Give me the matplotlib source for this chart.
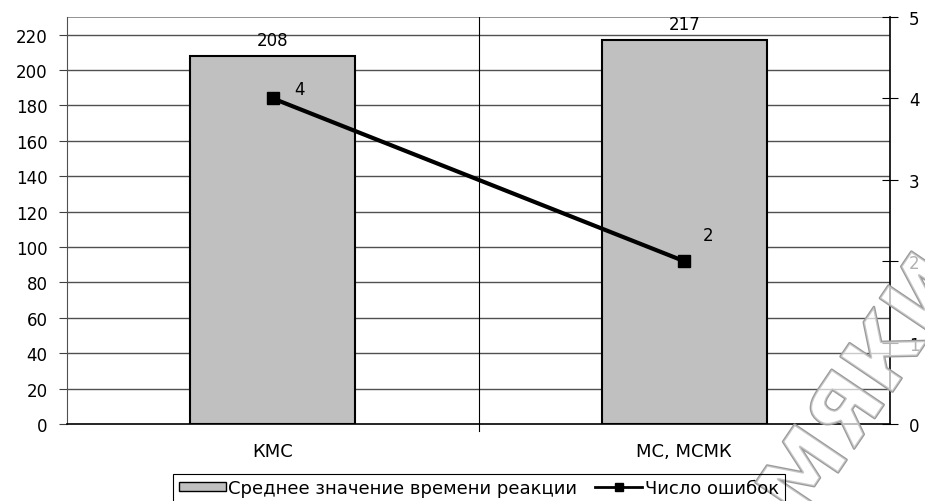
import matplotlib
matplotlib.use("Agg")
import matplotlib.pyplot as plt
import matplotlib.patheffects as pe
from matplotlib.lines import Line2D
from matplotlib.patches import Patch

plt.rcParams['font.family'] = ['DejaVu Sans']

categories = ["КМС", "МС, МСМК"]
reaction_time = [208, 217]
errors = [4, 2]
left_ticks = list(range(0, 221, 20))
right_ticks = [0, 1, 2, 3, 4, 5]
bar_label = "Среднее значение времени реакции"
line_label = "Число ошибок"

fig = plt.figure(figsize=(9.25, 5.02), dpi=100)
ax = fig.add_axes([67 / 925, 1 - 425 / 502, (890 - 67) / 925, (425 - 18) / 502])
x = list(range(len(categories)))

ax.set_xlim(-0.5, len(categories) - 0.5)
ax.set_ylim(0, 230)
ax.set_yticks(left_ticks)
for t in left_ticks[1:]:
    ax.axhline(t, color='#505050', lw=1.0, zorder=0)
ax.axhline(230, color='#808080', lw=1.2, zorder=0)
ax.axvline(0.5, color='black', lw=0.8, zorder=0)
ax.plot([0.5, 0.5], [0, -0.018], transform=ax.get_xaxis_transform(),
        color='black', lw=0.8, clip_on=False)

ax.bar(x, reaction_time, width=0.4, color='#c0c0c0', edgecolor='black', lw=1.5, zorder=2)
for xi, v in zip(x, reaction_time):
    ax.annotate(str(v), (xi, v), xytext=(0, 5), textcoords='offset points',
                ha='center', va='bottom', fontsize=12)

ax.set_xticks(x)
ax.set_xticklabels(categories, fontsize=13)
ax.tick_params(axis='x', length=0, pad=13)
ax.tick_params(axis='y', labelsize=12, length=6, direction='out', color='#404040', pad=8)
ax.spines['top'].set_visible(False)
ax.spines['right'].set_visible(False)
ax.spines['left'].set_color('#505050')
ax.spines['bottom'].set_color('black')
ax.spines['bottom'].set_linewidth(1.2)

ax2 = ax.twinx()
ax2.set_ylim(0, 5)
ax2.set_yticks(right_ticks)
ax2.plot(x, errors, color='black', lw=3, marker='s', markersize=9, zorder=5)
label_offsets = [(19, 7), (17, 19)]
for xi, v, off in zip(x, errors, label_offsets):
    ax2.annotate(str(v), (xi, v), xytext=off, textcoords='offset points',
                 ha='center', va='center', fontsize=12)
ax2.tick_params(axis='y', labelsize=12, length=11, direction='inout', pad=8)
for s in ['top', 'left', 'bottom']:
    ax2.spines[s].set_visible(False)
ax2.spines['right'].set_color('black')
ax2.spines['right'].set_linewidth(1.2)

# watermark (drawn under the legend, over the plot)
fig.text(866 / 925, 1 - 390 / 502, "МЯКИ", rotation=56, fontsize=62, fontweight='bold',
         color=(1, 1, 1, 0.45), ha='center', va='center', zorder=3,
         path_effects=[pe.Stroke(linewidth=1.8, foreground='#9a9a9a'), pe.Normal()])

handles = [Patch(facecolor='#c0c0c0', edgecolor='black', lw=1.0),
           Line2D([0], [0], color='black', lw=2, marker='s', markersize=6)]
leg = fig.legend(handles, [bar_label, line_label], loc='center', bbox_to_anchor=(479 / 925, 1 - 489 / 502),
                 ncol=2, frameon=True, fancybox=False, fontsize=13, handlelength=2.6,
                 handleheight=0.45, handletextpad=0.15, columnspacing=1.0, borderpad=0.3,
                 borderaxespad=0)
leg.set_zorder(5)
leg.get_frame().set_edgecolor('black')
leg.get_frame().set_linewidth(0.8)
leg.get_frame().set_alpha(None)
leg.get_frame().set_facecolor((1, 1, 1, 0))

fig.savefig("out.png", dpi=100)
